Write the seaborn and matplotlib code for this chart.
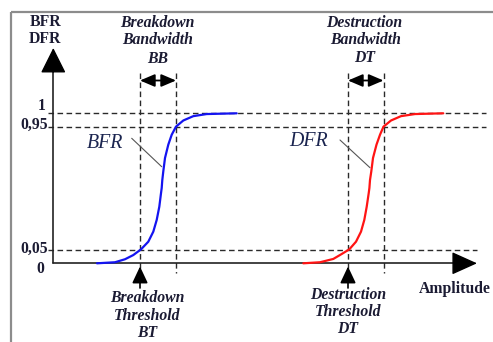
import matplotlib
matplotlib.use("Agg")
import matplotlib.pyplot as plt
import seaborn as sns
import pandas as pd

sns.set_theme(style="white")
plt.rcParams['font.family'] = ['Liberation Serif', 'DejaVu Serif']

# ---- data (schematic amplitude units, failure rate) ----
bfr_x = [97, 115, 125, 133.3, 141, 148.3, 153.3, 156.7, 159.3, 161, 161.7, 162.3, 163.3,
         165, 168.3, 171.7, 176, 183.3, 193.3, 206.7, 236.7]
bfr_y = [0, 0.007, 0.027, 0.055, 0.093, 0.144, 0.211, 0.289, 0.377, 0.467, 0.502, 0.555,
         0.613, 0.702, 0.791, 0.857, 0.911, 0.952, 0.981, 0.995, 1.0]
dfr_x = [303.3, 320, 333.3, 341.7, 349.3, 356, 361, 364.3, 366.7, 368.7, 369.4, 370, 371.3,
         373, 376.5, 380, 383.5, 391, 401, 415, 443.3]
dfr_y = [0, 0.007, 0.029, 0.062, 0.093, 0.144, 0.211, 0.289, 0.377, 0.467, 0.502, 0.555,
         0.613, 0.702, 0.791, 0.857, 0.911, 0.952, 0.981, 0.995, 1.0]
level_labels = ["0", "0,05", "0,95", "1"]
level_pos = [0.0, 0.089, 0.911, 1.0]
bt_band = [140, 176]    # breakdown threshold / end of bandwidth
dt_band = [348, 383.5]  # destruction threshold / end of bandwidth

W, H = 493, 342
fig = plt.figure(figsize=(W / 100, H / 100), dpi=100)
ax = fig.add_axes([0, 0, 1, 1])
y0_px, y1_px = 263.3, 113.3
scale = y0_px - y1_px
def P(py):
    return (y0_px - py) / scale

TXT = '#1b1b33'
DASH = dict(color='#2a2a2a', lw=1.0, ls=(0, (4, 2.5)))

# curves
df_b = pd.DataFrame({'x': bfr_x, 'y': bfr_y})
df_d = pd.DataFrame({'x': dfr_x, 'y': dfr_y})
sns.lineplot(data=df_b, x='x', y='y', ax=ax, color='#1414f0', lw=1.6, estimator=None,
             sort=False, solid_joinstyle='round', zorder=3)
sns.lineplot(data=df_d, x='x', y='y', ax=ax, color='#ff1414', lw=1.6, estimator=None,
             sort=False, solid_joinstyle='round', zorder=3)
ax.set_xlim(0, W)
ax.set_ylim(P(H), P(0))
ax.axis("off")

# frame (left + top, gray)
ax.plot([11, 11], [P(12), P(H + 5)], color='#8c8c8c', lw=1.6, solid_capstyle='butt')
ax.plot([11, W + 5], [P(12), P(12)], color='#8c8c8c', lw=1.6, solid_capstyle='butt')

# horizontal dashed level lines
ax.plot([48, 486], [level_pos[3]] * 2, **DASH)
ax.plot([48, 486], [level_pos[2]] * 2, **DASH)
ax.plot([48, 477], [level_pos[1]] * 2, **DASH)

# vertical dashed lines
for xv in bt_band + dt_band:
    ax.plot([xv, xv], [P(73), P(273)], **DASH)

# axes with arrows
ax.plot([53.3, 462], [0, 0], color='#222222', lw=1.2)
ax.plot([53.3, 53.3], [0, P(66)], color='#222222', lw=1.2)
ax.annotate('', xy=(477, 0), xytext=(455, 0),
            arrowprops=dict(arrowstyle='-|>,head_length=1.0,head_width=0.45',
                            mutation_scale=16, color='black', shrinkA=0, shrinkB=0, lw=1))
ax.annotate('', xy=(53.3, P(48)), xytext=(53.3, P(72)),
            arrowprops=dict(arrowstyle='-|>,head_length=1.0,head_width=0.5',
                            mutation_scale=16, color='black', shrinkA=0, shrinkB=0, lw=1))

# double arrows for bandwidths and threshold arrows
for band in (bt_band, dt_band):
    ax.annotate('', xy=(band[1], P(80.5)), xytext=(band[0], P(80.5)),
                arrowprops=dict(arrowstyle='<|-|>,head_length=0.75,head_width=0.32',
                                mutation_scale=12, color='black', shrinkA=0, shrinkB=0, lw=1.3))
    ax.annotate('', xy=(band[0], P(266.5)), xytext=(band[0], P(288)),
                arrowprops=dict(arrowstyle='-|>,head_length=0.85,head_width=0.4',
                                mutation_scale=12, color='black', shrinkA=0, shrinkB=0, lw=1.2))

# leader lines
ax.plot([131.7, 161.7], [P(138.3), P(166.7)], color='#555555', lw=0.8)
ax.plot([340, 370], [P(140), P(167.7)], color='#555555', lw=0.8)

# texts
BI = dict(fontweight='bold', fontstyle='italic', color=TXT, ha='center', va='center', fontsize=11.3)
B = dict(fontweight='bold', color=TXT, va='center', fontsize=11.3)
ax.text(45.3, P(21.7), "BFR", ha='center', **B)
ax.text(45.3, P(39.3), "DFR", ha='center', **B)
ax.text(157.5, P(23.3), "Breakdown", **BI)
ax.text(157.5, P(40), "Bandwidth", **BI)
ax.text(157.5, P(59.3), "BB", **BI)
ax.text(364.5, P(23.3), "Destruction", **BI)
ax.text(366, P(40), "Bandwidth", **BI)
ax.text(364.5, P(58), "DT", **BI)
ax.text(147, P(298.3), "Breakdown", **BI)
ax.text(147.5, P(315.7), "Threshold", **BI)
ax.text(147.5, P(333), "BT", **BI)
ax.text(348, P(295), "Destruction", **BI)
ax.text(348.3, P(311.7), "Threshold", **BI)
ax.text(348, P(329.3), "DT", **BI)
ax.text(104.7, P(143.3), "BFR", fontstyle='italic', color='#1b2550', ha='center', va='center', fontsize=14.3)
ax.text(308.8, P(142), "DFR", fontstyle='italic', color='#1b2550', ha='center', va='center', fontsize=14.3)
ax.text(455, P(289), "Amplitude", ha='center', **B)

# tick labels
ax.text(42, P(106), level_labels[3], ha='center', **B)
ax.text(48, P(125), level_labels[2], ha='right', **B)
ax.text(48, P(249), level_labels[1], ha='right', **B)
ax.text(40, P(269), level_labels[0], ha='center', **B)

fig.savefig("out.png", dpi=100)
